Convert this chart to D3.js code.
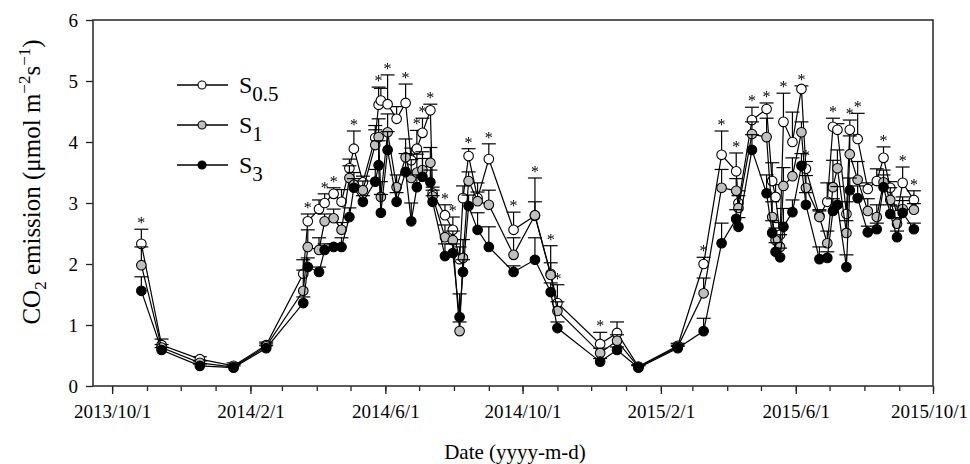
<!DOCTYPE html>
<html><head><meta charset="utf-8">
<script src="https://cdn.jsdelivr.net/npm/d3@7"></script>
<style>
html,body{margin:0;padding:0;background:#fff;}
svg text{font-family:"Liberation Serif","Times New Roman",serif;fill:#000;}
.stars{filter:grayscale(1);}
</style></head>
<body><svg id="c" width="970" height="464"></svg>
<script>
const dates = ["2013-10-27","2013-11-14","2013-12-18","2014-01-17","2014-02-15","2014-03-20","2014-03-24","2014-04-03","2014-04-08","2014-04-16",
"2014-04-23","2014-04-30","2014-05-04","2014-05-12","2014-05-23","2014-05-26","2014-05-28","2014-06-03","2014-06-11","2014-06-19",
"2014-06-24","2014-06-29","2014-07-04","2014-07-11","2014-07-13","2014-07-24","2014-07-31","2014-08-06","2014-08-09","2014-08-14",
"2014-08-22","2014-09-01","2014-09-23","2014-10-12","2014-10-26","2014-11-01","2014-12-09","2014-12-24","2015-01-12","2015-02-16",
"2015-03-11","2015-03-27","2015-04-09","2015-04-11","2015-04-23","2015-05-06","2015-05-11","2015-05-14","2015-05-18","2015-05-21",
"2015-05-29","2015-06-06","2015-06-10","2015-06-22","2015-06-29","2015-07-04","2015-07-08","2015-07-16","2015-07-19","2015-07-26",
"2015-08-04","2015-08-12","2015-08-18","2015-08-24","2015-08-30","2015-09-04","2015-09-14"];

const s05 = [2.33,0.67,0.44,0.33,0.67,1.84,2.70,2.90,3.00,3.15, 3.02,3.57,3.89,3.34,4.07,4.61,4.68,4.62,4.38,4.64,
3.70,3.89,4.15,4.52,3.16,2.80,2.56,2.08,3.08,3.77, 3.08,3.72,2.56,2.79,1.84,1.36,0.69,0.87,0.32,0.66,
2.00,3.79,3.52,3.00,4.36,4.54,3.36,3.10,2.48,4.33, 4.00,4.87,3.56,2.79,3.02,4.25,4.20,2.82,4.20,4.05,
3.23,3.36,3.74,3.25,2.80,3.33,3.05];
const s1 = [1.98,0.63,0.38,0.31,0.65,1.56,2.28,2.23,2.70,2.75, 2.56,3.41,3.30,3.21,3.95,4.08,3.10,4.16,3.26,3.75,
3.41,3.50,3.54,3.66,3.11,2.44,2.39,0.90,2.10,3.36, 3.03,2.97,2.15,2.80,1.82,1.23,0.54,0.74,0.31,0.64,
1.52,3.25,3.20,2.92,4.13,4.08,2.77,2.39,2.28,3.28, 3.44,4.16,3.25,2.77,2.34,3.26,3.57,2.51,3.80,3.38,
2.87,2.77,3.34,3.05,2.66,2.90,2.89];
const s3 = [1.56,0.59,0.33,0.30,0.62,1.36,1.95,1.87,2.23,2.28, 2.28,2.77,3.25,3.02,3.35,3.62,2.84,3.87,3.02,3.51,
2.70,3.26,3.43,3.34,3.02,2.13,2.18,1.13,1.87,2.95, 2.56,2.28,1.87,2.07,1.54,0.95,0.40,0.59,0.30,0.62,
0.90,2.34,2.74,2.61,3.87,3.16,2.51,2.20,2.11,2.61, 2.85,3.61,2.97,2.08,2.10,2.87,2.97,1.95,3.21,3.08,
2.52,2.57,3.26,2.82,2.44,2.84,2.57];

const e05 = [0.24,0.10,0.04,0.05,0.05,0.23,0.12,0.15,0.15,0.10, 0.20,0.15,0.29,0.10,0.20,0.29,0.20,0.48,0.20,0.31,
0.20,0.30,0.24,0.10,0.10,0.17,0.21,0.20,0.20,0.12, 0.10,0.25,0.29,0.62,0.46,0.30,0.19,0.18,0.03,0.04,
0.11,0.39,0.30,0.20,0.21,0.10,0.30,0.20,0.20,0.47, 0.49,0.05,0.12,0.10,0.31,0.14,0.10,0.20,0.16,0.42,
0.10,0.20,0.18,0.10,0.15,0.26,0.15];
const e1 = [0.30,0.05,0.03,0.04,0.04,0.34,0.28,0.20,0.12,0.15, 0.12,0.20,0.20,0.15,0.25,0.30,0.25,0.30,0.20,0.30,
0.30,0.30,0.30,0.25,0.10,0.20,0.15,0.15,0.30,0.15, 0.30,0.24,0.28,0.22,0.20,0.15,0.08,0.10,0.03,0.03,
0.25,0.30,0.20,0.20,0.20,0.31,0.25,0.20,0.20,0.30, 0.30,0.17,0.20,0.10,0.20,0.44,0.30,0.20,0.30,0.30,
0.20,0.20,0.20,0.20,0.10,0.20,0.10];
const e3 = [0.23,0.04,0.03,0.03,0.04,0.10,0.15,0.08,0.10,0.05, 0.15,0.15,0.15,0.10,0.20,0.40,0.30,0.30,0.15,0.30,
0.30,0.20,0.30,0.20,0.10,0.20,0.15,0.38,0.20,0.18, 0.28,0.33,0.10,0.36,0.15,0.10,0.05,0.05,0.03,0.03,
0.21,0.33,0.15,0.15,0.25,0.30,0.20,0.15,0.15,0.30, 0.20,0.20,0.20,0.20,0.10,0.20,0.30,0.20,0.20,0.20,
0.10,0.10,0.20,0.15,0.10,0.20,0.10];
const sig = [1,0,0,0,0,0,1,0,1,1, 0,0,1,0,0,1,0,1,0,1, 0,1,1,1,0,1,1,0,0,1, 0,1,1,1,1,1,1,0,0,0,
1,1,1,0,1,1,0,0,0,1, 0,1,1,0,0,1,0,0,1,1, 0,0,1,0,0,1,1];

const seriesNames = ["S","S","S"];
const seriesSubs = ["0.5","1","3"];
const seriesFills = ["#ffffff","#bfbfbf","#000000"];
const yTicks = [0,1,2,3,4,5,6];
const xDomain = ["2013-09-14","2015-10-01"];
const majorTicks = ["2013-10-01","2014-02-01","2014-06-01","2014-10-01","2015-02-01","2015-06-01","2015-10-01"];

const parse = d3.timeParse("%Y-%m-%d");
const L=93, R=933, T=20, B=386;
const svg = d3.select("#c");
const x = d3.scaleTime().domain(xDomain.map(parse)).range([L,R]);
const y = d3.scaleLinear().domain([0,6]).range([B,T]);

const series = [s05,s1,s3].map((vals,i)=>({
  fill: seriesFills[i],
  pts: vals.map((v,j)=>({date:parse(dates[j]), v, e:[e05,e1,e3][i][j]}))
}));

// axes
const minorTicks = d3.timeMonth.range(parse("2013-10-01"), d3.timeDay.offset(parse("2015-10-01"),1));
const gMinor = svg.append("g").attr("transform",`translate(0,${B})`)
  .call(d3.axisBottom(x).tickValues(minorTicks).tickSize(5).tickFormat(""));
const fmt = d3.timeFormat("%Y/%-m/%-d");
const gMajor = svg.append("g").attr("transform",`translate(0,${B})`)
  .call(d3.axisBottom(x).tickValues(majorTicks.map(parse)).tickSize(8).tickPadding(11).tickFormat(fmt));
const gy = svg.append("g").attr("transform",`translate(${L},0)`)
  .call(d3.axisLeft(y).tickValues(yTicks).tickSize(7).tickPadding(8).tickFormat(d3.format("d")));
[gMinor,gMajor,gy].forEach(g=>{
  g.select(".domain").remove();
  g.selectAll(".tick line").attr("stroke","#222").attr("stroke-width",1.3);
  g.selectAll("text").attr("font-size",19).attr("fill","#000")
    .style("font-family","'Liberation Serif','Times New Roman',serif");
});
gMajor.selectAll(".tick").filter((d,i,n)=>i===n.length-1).select("text").attr("dx",-4);
gy.selectAll("text").attr("dy","0.36em");

svg.append("rect").attr("x",L).attr("y",T).attr("width",R-L).attr("height",B-T)
  .attr("fill","none").attr("stroke","#333").attr("stroke-width",1.6);

const line = d3.line().x(d=>x(d.date)).y(d=>y(d.v));
series.forEach(s=>{
  const g = svg.append("g");
  g.append("path").datum(s.pts).attr("d",line).attr("fill","none").attr("stroke","#000").attr("stroke-width",1.2);
  const eb = g.selectAll(".eb").data(s.pts).enter().append("g");
  eb.append("line").attr("x1",d=>x(d.date)).attr("x2",d=>x(d.date))
    .attr("y1",d=>y(d.v)).attr("y2",d=>y(d.v+d.e)).attr("stroke","#000").attr("stroke-width",1.2);
  eb.append("line").attr("x1",d=>x(d.date)-7).attr("x2",d=>x(d.date)+7)
    .attr("y1",d=>y(d.v+d.e)).attr("y2",d=>y(d.v+d.e)).attr("stroke","#000").attr("stroke-width",1.2);
  g.selectAll("circle").data(s.pts).enter().append("circle")
    .attr("cx",d=>x(d.date)).attr("cy",d=>y(d.v)).attr("r",4.8)
    .attr("fill",s.fill).attr("stroke","#000").attr("stroke-width",1.1);
});

// significance stars
svg.append("g").attr("class","stars")
  .selectAll("text").data(dates.map((d,i)=>({i,date:parse(d)})).filter(d=>sig[d.i]))
  .enter().append("text")
  .attr("x",d=>x(d.date)).attr("text-anchor","middle").attr("font-size",16).attr("fill","#000")
  .attr("y",d=>y(Math.max(s05[d.i]+e05[d.i], s1[d.i]+e1[d.i], s3[d.i]+e3[d.i]))-1)
  .text("*");

// legend
const rows=[85,125,165];
rows.forEach((ry,i)=>{
  svg.append("line").attr("x1",177).attr("x2",228).attr("y1",ry).attr("y2",ry).attr("stroke","#000").attr("stroke-width",1.3);
  svg.append("circle").attr("cx",202).attr("cy",ry).attr("r",4).attr("fill",seriesFills[i]).attr("stroke","#000").attr("stroke-width",1.1);
  const t = svg.append("text").attr("x",239).attr("y",ry+8).attr("font-size",24).text(seriesNames[i]);
  t.append("tspan").attr("font-size",21).attr("dy",8).text(seriesSubs[i]);
});

// axis titles
svg.append("text").attr("x",515).attr("y",459).attr("text-anchor","middle").attr("font-size",21).text("Date (yyyy-m-d)");
const yt = svg.append("text").attr("transform","translate(40,182) rotate(-90)").attr("text-anchor","middle").attr("font-size",25);
yt.append("tspan").text("CO");
yt.append("tspan").attr("font-size",17).attr("dy",6).text("2");
yt.append("tspan").attr("dy",-6).text(" emission (μmol m");
yt.append("tspan").attr("font-size",17).attr("dy",-10).text("−2");
yt.append("tspan").attr("dy",10).text("s");
yt.append("tspan").attr("font-size",17).attr("dy",-10).text("−1");
yt.append("tspan").attr("dy",10).text(")");
</script></body></html>
